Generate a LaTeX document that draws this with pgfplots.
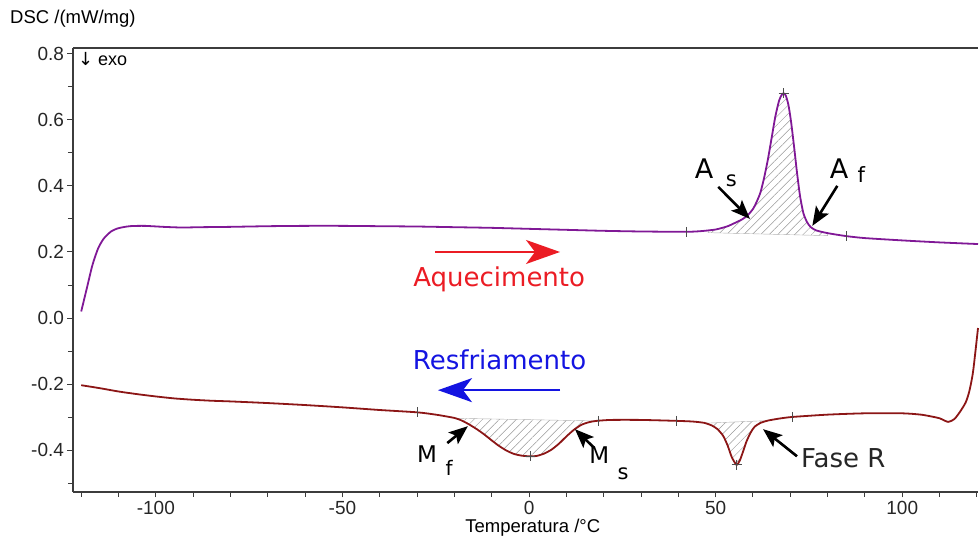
\documentclass[border=0pt]{standalone}
\usepackage{pgfplots}
\pgfplotsset{compat=1.18}
\usepackage{fontspec}
\setmainfont{Liberation Sans}
\newfontfamily\dv{DejaVu Sans}
\usetikzlibrary{patterns.meta,arrows.meta}
\definecolor{heat}{RGB}{128,24,150}
\definecolor{cool}{RGB}{140,22,22}
\definecolor{axc}{RGB}{60,60,60}
\definecolor{redt}{RGB}{235,28,36}
\definecolor{bluet}{RGB}{20,20,225}
\begin{document}
\begin{tikzpicture}
\useasboundingbox (-73pt,-45pt) rectangle (906pt,492pt);
\begin{axis}[
  scale only axis, width=905pt, height=444pt,
  anchor=south west, at={(0pt,0pt)},
  xmin=-122.2, xmax=120.3, ymin=-0.526, ymax=0.817,
  axis lines*=left,
  axis line style={-, axc, line width=1.2pt},
  every outer x axis line/.append style={-},
  every outer y axis line/.append style={-},
  clip=false,
  tick align=outside,
  major tick length=5.5pt, minor tick length=5pt,
  every tick/.style={axc, line width=1pt},
  xtick={-100,-50,0,50,100},
  xticklabels={-100,-50,0,50,100},
  minor xtick={-120,-110,-90,-80,-70,-60,-40,-30,-20,-10,10,20,30,40,60,70,80,90,110,120},
  ytick={-0.4,-0.2,0,0.2,0.4,0.6,0.8},
  yticklabels={-0.4,-0.2,0.0,0.2,0.4,0.6,0.8},
  minor ytick={-0.5,-0.3,-0.1,0.1,0.3,0.5,0.7},
  ticklabel style={font=\fontsize{19}{21}\selectfont, text=black!85},
]
% hatched areas
\addplot[draw=gray!60, line width=0.4pt, pattern={Lines[angle=45,distance=6pt,line width=0.5pt]}, pattern color=gray!80] coordinates {
(48,0.265)(50,0.268)(53,0.277)(55,0.287)(57,0.298)(58.5,0.31)(60,0.33)(61,0.352)(62,0.38)(63,0.425)(64,0.48)(65,0.545)(66,0.61)(67,0.658)(67.7,0.675)(68.2,0.68)(68.8,0.673)(69.5,0.645)(70.2,0.595)(71,0.52)(71.8,0.44)(72.6,0.37)(73.5,0.318)(74.5,0.29)(75.5,0.275)(77,0.265)(80,0.257)(80,0.2494)(48,0.2584)(48,0.265)};
\addplot[draw=gray!60, line width=0.4pt, pattern={Lines[angle=45,distance=6pt,line width=0.5pt]}, pattern color=gray!80] coordinates {
(-20,-0.302)(-18,-0.31)(-16,-0.322)(-14,-0.336)(-12,-0.352)(-10,-0.37)(-8,-0.387)(-6,-0.401)(-4,-0.411)(-2,-0.416)(0,-0.418)(2,-0.417)(4,-0.41)(6,-0.398)(8,-0.38)(10,-0.358)(12,-0.338)(14,-0.323)(16,-0.315)(18,-0.311)(-20,-0.303)};
\addplot[draw=gray!60, line width=0.4pt, pattern={Lines[angle=45,distance=6pt,line width=0.5pt]}, pattern color=gray!80] coordinates {
(47,-0.317)(49,-0.325)(50.5,-0.336)(52,-0.356)(53.2,-0.385)(54.3,-0.42)(55.6,-0.444)(56.5,-0.43)(57.3,-0.405)(58.2,-0.375)(59.2,-0.35)(60,-0.335)(60.5,-0.328)(62,-0.317)(64,-0.31)(47,-0.318)};
% heating curve
\addplot[heat, line width=1.8pt, smooth, tension=0.4] coordinates {
(-120,0.02)(-118.5,0.09)(-117,0.16)(-115.5,0.21)(-114,0.24)(-112,0.262)(-110,0.272)(-107,0.278)(-103,0.279)(-98,0.276)(-93,0.274)(-88,0.275)(-80,0.276)(-70,0.278)(-60,0.279)(-50,0.279)(-40,0.278)(-30,0.277)(-20,0.275)(-10,0.273)(0,0.270)(10,0.267)(20,0.264)(30,0.262)(42,0.261)(46,0.263)(50,0.268)(53,0.277)(55,0.287)(57,0.298)(58.5,0.31)(60,0.33)(61,0.352)(62,0.38)(63,0.425)(64,0.48)(65,0.545)(66,0.61)(67,0.658)(67.7,0.675)(68.2,0.68)(68.8,0.673)(69.5,0.645)(70.2,0.595)(71,0.52)(71.8,0.44)(72.6,0.37)(73.5,0.318)(74.5,0.29)(75.5,0.275)(77,0.265)(80,0.257)(85,0.248)(90,0.242)(100,0.235)(110,0.229)(120.3,0.224)};
% cooling curve
\addplot[cool, line width=1.8pt, smooth, tension=0.4] coordinates {
(-120,-0.203)(-115,-0.212)(-110,-0.222)(-105,-0.23)(-100,-0.237)(-95,-0.243)(-90,-0.247)(-85,-0.250)(-80,-0.252)(-70,-0.257)(-60,-0.263)(-50,-0.270)(-40,-0.278)(-30,-0.285)(-25,-0.292)(-20,-0.302)(-18,-0.31)(-16,-0.322)(-14,-0.336)(-12,-0.352)(-10,-0.37)(-8,-0.387)(-6,-0.401)(-4,-0.411)(-2,-0.416)(0,-0.418)(2,-0.417)(4,-0.41)(6,-0.398)(8,-0.38)(10,-0.358)(12,-0.338)(14,-0.323)(16,-0.315)(18,-0.311)(22,-0.308)(30,-0.308)(40,-0.311)(44,-0.313)(47,-0.317)(49,-0.325)(50.5,-0.336)(52,-0.356)(53.2,-0.385)(54.3,-0.42)(55.6,-0.444)(56.5,-0.43)(57.3,-0.405)(58.2,-0.375)(59.2,-0.35)(60,-0.335)(60.5,-0.328)(62,-0.317)(64,-0.31)(67,-0.304)(70.6,-0.299)(80,-0.292)(90,-0.288)(100,-0.288)(105,-0.292)(108,-0.298)(110,-0.303)(112.3,-0.314)(114,-0.305)(115.5,-0.283)(117,-0.255)(118,-0.22)(119,-0.16)(120.3,-0.03)};
% markers
\addplot[only marks, mark=|, mark size=5pt, mark options={gray!60!black, line width=0.8pt}] coordinates {(42.2,0.261)(85,0.248)(-30,-0.285)(18.5,-0.311)(39.6,-0.311)(70.6,-0.299)};
\addplot[only marks, mark=+, mark size=5pt, mark options={gray!60!black, line width=0.8pt}] coordinates {(68.2,0.68)(0.3,-0.418)(55.6,-0.444)};
% annotations
\node[font=\dv\fontsize{27}{30}\selectfont, inner sep=0pt] at (axis cs:46.9,0.452) {A};
\node[font=\dv\fontsize{21}{24}\selectfont, inner sep=0pt] at (axis cs:54.2,0.415) {s};
\node[font=\dv\fontsize{27}{30}\selectfont, inner sep=0pt] at (axis cs:83.1,0.452) {A};
\node[font=\dv\fontsize{21}{24}\selectfont, inner sep=0pt] at (axis cs:89,0.433) {f};
\node[font=\dv\fontsize{23}{26}\selectfont, inner sep=0pt] at (axis cs:-27.3,-0.412) {M};
\node[font=\dv\fontsize{20}{24}\selectfont, inner sep=0pt] at (axis cs:-21.4,-0.452) {f};
\node[font=\dv\fontsize{23}{26}\selectfont, inner sep=0pt] at (axis cs:18.8,-0.415) {M};
\node[font=\dv\fontsize{21}{24}\selectfont, inner sep=0pt] at (axis cs:25.2,-0.47) {s};
\node[font=\dv\fontsize{26}{30}\selectfont, inner sep=0pt, anchor=base, text=black!85] at (axis cs:84.2,-0.452) {Fase R};
\tikzset{ann/.style={black, line width=2.6pt, -{Stealth[length=19pt,width=15pt,inset=4pt]}}}
\draw[ann] (axis cs:50.7,0.397) -- (axis cs:59.2,0.30);
\draw[ann] (axis cs:82.6,0.40) -- (axis cs:75.9,0.279);
\draw[ann] (axis cs:-21.9,-0.378) -- (axis cs:-16.4,-0.327);
\draw[ann] (axis cs:17.4,-0.392) -- (axis cs:12.3,-0.336);
\draw[ann] (axis cs:71.8,-0.418) -- (axis cs:62.7,-0.336);
\node[font=\dv\fontsize{26}{30}\selectfont, inner sep=0pt, anchor=base, text=redt] at (axis cs:-8.0,0.097) {Aquecimento};
\draw[redt, line width=2.2pt, -{Stealth[length=34pt,width=24pt,inset=9pt]}] (axis cs:-25.2,0.2) -- (axis cs:8.3,0.2);
\node[font=\dv\fontsize{26}{30}\selectfont, inner sep=0pt, anchor=base, text=bluet] at (axis cs:-7.9,-0.155) {Resfriamento};
\draw[bluet, line width=2.2pt, -{Stealth[length=34pt,width=24pt,inset=9pt]}] (axis cs:8.3,-0.218) -- (axis cs:-24.4,-0.218);
\node[font=\fontsize{18}{20}\selectfont, anchor=base west, inner sep=0pt] at (axis cs:-120.9,0.764) {{\dv↓} exo};
% top border
\draw[axc, line width=1.2pt] (rel axis cs:0,1) -- (rel axis cs:1,1);
% labels
\node[font=\fontsize{18.5}{20}\selectfont, anchor=west, inner sep=0pt, xshift=-63pt, yshift=29.5pt] at (rel axis cs:0,1) {DSC /(mW/mg)};
\node[font=\fontsize{18.5}{20}\selectfont, anchor=base, inner sep=0pt, yshift=-41pt] at (rel axis cs:0.508,0) {Temperatura /°C};
\end{axis}
\end{tikzpicture}
\end{document}
